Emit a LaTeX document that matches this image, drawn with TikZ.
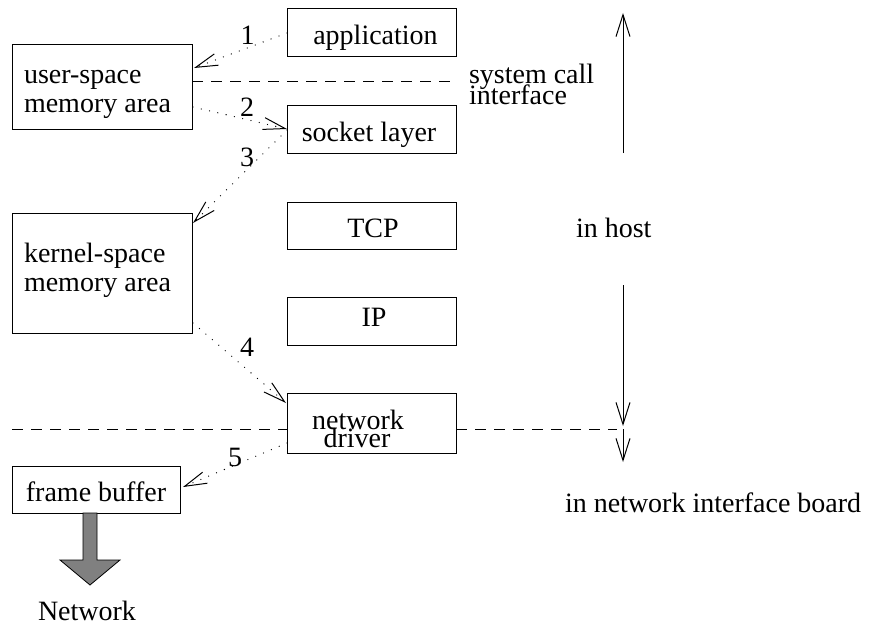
\documentclass[tikz,border=0pt]{standalone}
\usepackage{fontspec}
\setmainfont{Liberation Serif}
\usetikzlibrary{arrows.meta,calc}
\definecolor{netgray}{RGB}{128,128,128}
\begin{document}
\begin{tikzpicture}[x=1pt,y=-1pt,
  txt/.style={font=\fontsize{28}{30}\selectfont, inner sep=0pt, outer sep=0pt},
  layer/.style={draw, line width=1pt, inner sep=0pt, outer sep=0pt, minimum width=169pt},
  membox/.style={draw, line width=1pt, inner sep=0pt, outer sep=0pt},
  flow/.style={line width=1.3pt, line cap=round, dash pattern=on 0pt off 8.5pt,
    -{Straight Barb[length=22pt,width=12pt,line width=1pt]}},
  boundary/.style={line width=1pt, dash pattern=on 11pt off 8pt},
  extent/.style={line width=1pt, -{Straight Barb[length=22pt,width=14pt,line width=1pt]}},
]
\useasboundingbox (0,0) rectangle (872,626);

% protocol stack
\node[layer, minimum height=48pt] (app)  at (371.5,33)    {};
\node[layer, minimum height=48pt] (sock) at (371.5,129)   {};
\node[layer, minimum height=47pt] (tcp)  at (371.5,225.5) {};
\node[layer, minimum height=48pt] (ip)   at (371.5,321)   {};
\node[layer, minimum height=60pt] (drv)  at (371.5,423)   {};

% memory areas
\node[membox, minimum width=180pt, minimum height=84pt]  (user) at (102,87)    {};
\node[membox, minimum width=180pt, minimum height=120pt] (kern) at (102,273)   {};
\node[membox, minimum width=168pt, minimum height=47pt]  (fb)   at (96,489.5)  {};

% box texts
\node[txt, anchor=base] (appt)  at (375.5,45)  {application};
\node[txt, anchor=base] (sockt) at (369,141.5) {socket layer};
\node[txt, anchor=base] (tcpt)  at (373,237)   {TCP};
\node[txt, anchor=base] (ipt)   at (374,326.5) {IP};
\node[txt, anchor=base] (drvta) at (358,429)   {network};
\node[txt, anchor=base] (drvtb) at (357,447.5) {driver};
\node[txt, anchor=base west] (userta) at (24,83)    {user-space};
\node[txt, anchor=base west] (usertb) at (24,112.5) {memory area};
\node[txt, anchor=base west] (kernta) at (24,262)   {kernel-space};
\node[txt, anchor=base west] (kerntb) at (24,291.5) {memory area};
\node[txt, anchor=base] (fbt) at (96,501) {frame buffer};

% side texts
\node[txt, anchor=base west] (scia)  at (469,83)  {system call};
\node[txt, anchor=base west] (scib)  at (469,104) {interface};
\node[txt, anchor=base west] (host)  at (576,237) {in host};
\node[txt, anchor=base west] (board) at (565,512) {in network interface board};
\node[txt, anchor=base west] (net)   at (38,620)  {Network};

% data path steps
\draw[flow] (app.west) -- ($(user.north east)+(2,23)$);
\draw[flow] ($(user.north east)+(1,62)$) -- (sock.west);
\draw[flow] ($(sock.west)+(0,1)$) -- ($(kern.north east)+(1,10)$);
\draw[flow] ($(kern.south east)+(1,-10)$) -- ($(drv.north west)+(-1,10)$);
\draw[flow] ($(drv.west)+(0,20)$) -- ($(fb.north east)+(3,21)$);

\node[txt, anchor=base] (stepa) at (247.5,45)  {1};
\node[txt, anchor=base] (stepb) at (247,116)   {2};
\node[txt, anchor=base] (stepc) at (247,166)   {3};
\node[txt, anchor=base] (stepd) at (247,356)   {4};
\node[txt, anchor=base] (stepe) at (235,466)   {5};

% boundaries
\coordinate (sysend) at (458,81);
\draw[boundary] ($(user.north east)+(0,36)$) -- (sysend);
\coordinate (nicleft)  at (12,429);
\coordinate (nicright) at (617,429);
\draw[boundary] (nicleft) -- (drv.west |- nicleft);
\draw[boundary] (drv.east |- nicleft) -- (nicright);

% extent arrows
\coordinate (hosttop)    at (623,13);
\coordinate (hostupfrom) at (623,153);
\coordinate (hostdnfrom) at (623,285);
\coordinate (hostbottom) at (623,426);
\coordinate (boardfrom)  at (623,429);
\coordinate (boardbot)   at (623,462);
\draw[extent] (hostupfrom) -- (hosttop);
\draw[extent] (hostdnfrom) -- (hostbottom);
\draw[extent] (boardfrom) -- (boardbot);

% outgoing network arrow
\coordinate (shaft) at ($(fb.south)+(-6,0)$);
\draw[line width=0.8pt, fill=netgray] (shaft) ++(-7,0) -- ++(0,47) -- ++(-23,0)
  -- ++(30,25) -- ++(30,-25) -- ++(-23,0) -- ++(0,-47) -- cycle;
\end{tikzpicture}
\end{document}
